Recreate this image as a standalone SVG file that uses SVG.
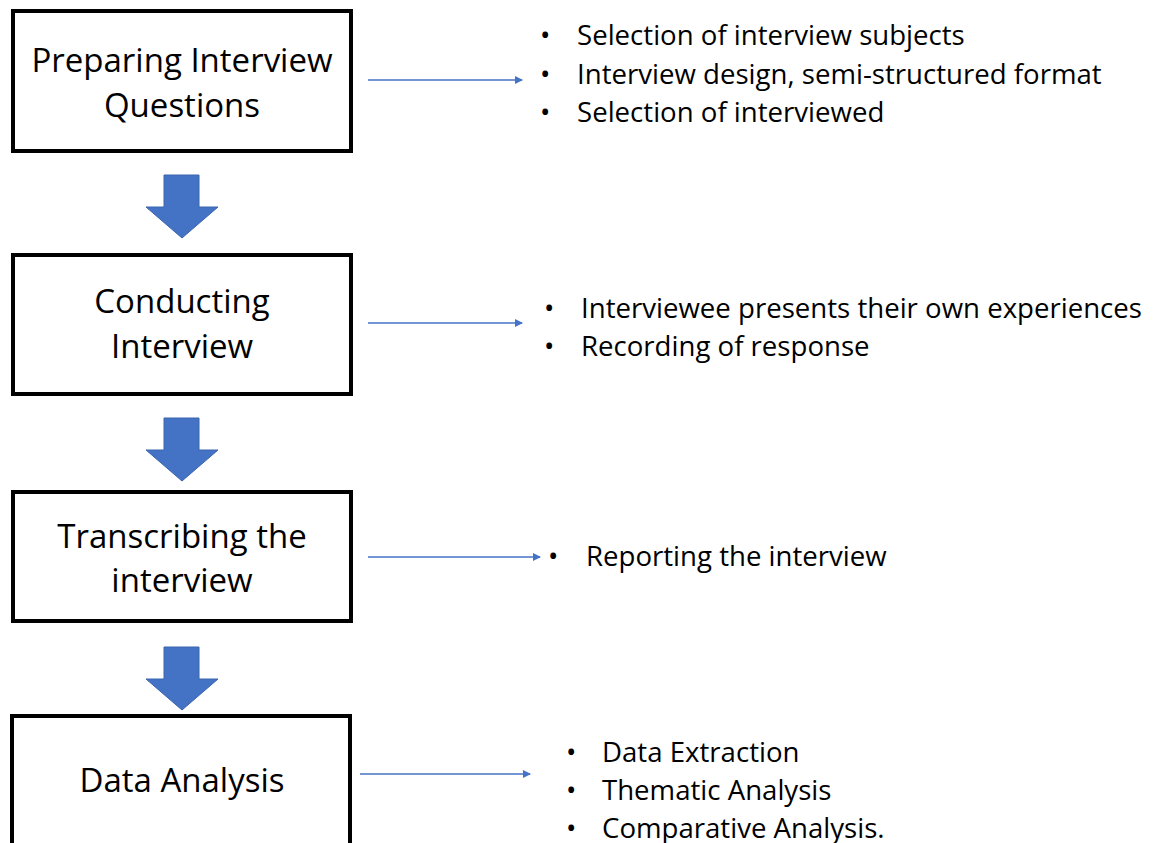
<svg xmlns="http://www.w3.org/2000/svg" width="1154" height="843" viewBox="0 0 1154 843">
  <style>
    .box { fill: #ffffff; stroke: #000000; stroke-width: 4; }
    .step { font-family: "Open Sans", "Liberation Sans", sans-serif; font-size: 33px; fill: #000000; text-anchor: middle; }
    .item { font-family: "Open Sans", "Liberation Sans", sans-serif; font-size: 27.6px; fill: #000000; }
    .flow { fill: #4472C4; stroke: #3A64AE; stroke-width: 1; }
    .link { stroke: #4472C4; stroke-width: 1.5; fill: none; marker-end: url(#head); }
  </style>
  <defs>
    <marker id="head" markerWidth="8" markerHeight="8" refX="7" refY="4" orient="auto" markerUnits="userSpaceOnUse">
      <path d="M0,0 L8,4 L0,8 Z" fill="#4472C4"/>
    </marker>
  </defs>
  <rect width="1154" height="843" fill="#ffffff"/>

  <g id="step-prepare">
    <rect class="box" x="13" y="11" width="338" height="140"/>
    <text class="step" x="182" y="72">Preparing Interview</text>
    <text class="step" x="182" y="117">Questions</text>
  </g>
  <g id="step-conduct">
    <rect class="box" x="13" y="255" width="338" height="139"/>
    <text class="step" x="182" y="313">Conducting</text>
    <text class="step" x="182" y="358">Interview</text>
  </g>
  <g id="step-transcribe">
    <rect class="box" x="13" y="492" width="338" height="129"/>
    <text class="step" x="182" y="548">Transcribing the</text>
    <text class="step" x="182" y="592">interview</text>
  </g>
  <g id="step-analysis">
    <rect class="box" x="12" y="716" width="338" height="140"/>
    <text class="step" x="182" y="792">Data Analysis</text>
  </g>

  <g id="flow-arrows">
    <path class="flow" d="M164,175 H199 V207 H218 L182,238 L146,207 H164 Z"/>
    <path class="flow" d="M164,418 H199 V450 H218 L182,481 L146,450 H164 Z"/>
    <path class="flow" d="M164,647 H199 V679 H218 L182,710 L146,679 H164 Z"/>
  </g>

  <g id="connectors">
    <line class="link" x1="368" y1="80" x2="522" y2="80"/>
    <line class="link" x1="368" y1="323" x2="522" y2="323"/>
    <line class="link" x1="368" y1="557" x2="540" y2="557"/>
    <line class="link" x1="360" y1="774" x2="530" y2="774"/>
  </g>

  <g id="notes-prepare" class="item">
    <text x="540" y="45">•</text><text x="577" y="45">Selection of interview subjects</text>
    <text x="540" y="84">•</text><text x="577" y="84">Interview design, semi-structured format</text>
    <text x="540" y="122">•</text><text x="577" y="122">Selection of interviewed</text>
  </g>
  <g id="notes-conduct" class="item">
    <text x="544" y="318">•</text><text x="581" y="318">Interviewee presents their own experiences</text>
    <text x="544" y="356">•</text><text x="581" y="356">Recording of response</text>
  </g>
  <g id="notes-transcribe" class="item">
    <text x="548" y="566">•</text><text x="586" y="566">Reporting the interview</text>
  </g>
  <g id="notes-analysis" class="item">
    <text x="566" y="762">•</text><text x="602" y="762">Data Extraction</text>
    <text x="566" y="800">•</text><text x="602" y="800">Thematic Analysis</text>
    <text x="566" y="838">•</text><text x="602" y="838">Comparative Analysis.</text>
  </g>
</svg>
